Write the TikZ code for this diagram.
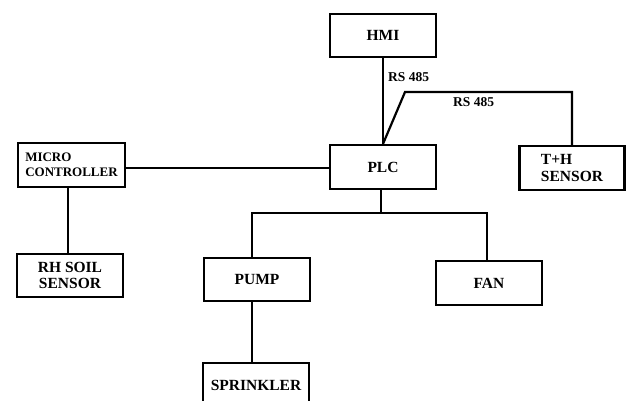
\documentclass[tikz,border=0pt]{standalone}
\usepackage{fontspec}
\setmainfont{Liberation Serif}
\begin{document}
\begin{tikzpicture}[x=1pt,y=-1pt,
  blk/.style={draw,line width=2.2pt,minimum width=106pt,minimum height=44pt,inner sep=0pt,
    font=\fontsize{15.5}{16.5}\selectfont\bfseries,align=center},
  lbl/.style={font=\fontsize{13.5}{15}\selectfont\bfseries,inner sep=0pt,anchor=west},
  wire/.style={line width=2.2pt}]
\useasboundingbox (0,0) rectangle (628,400);
\node[blk,minimum height=43pt] (hmi) at (383,35.5) {HMI};
\node[blk] (plc) at (383,167) {PLC};
\node[blk,minimum width=105pt,align=left] (th) at (572,168) {T+H\\SENSOR};
\node[blk,minimum width=107pt,align=left,font=\fontsize{13}{15}\selectfont\bfseries] (mc) at (71.5,165) {MICRO\\CONTROLLER};
\node[blk,minimum height=43pt] (rh) at (70,275.5) {RH SOIL\\SENSOR};
\node[blk,minimum height=43pt] (pump) at (257,279.5) {PUMP};
\node[blk] (fan) at (489,283) {FAN};
\node[blk,minimum height=44pt,anchor=north] (spr) at (256,362) {SPRINKLER};
\coordinate (bend) at (405,92);
\coordinate (thc) at (572,92);
\coordinate (busL) at (252,213);
\coordinate (busR) at (487,213);
\draw[wire] (hmi.south) -- (plc.north);
\draw[wire] (plc.north) -- (bend) -- (thc) -- (th.north);
\draw[wire] (plc.west |- 0,168) -- (mc.east |- 0,168);
\draw[wire] (mc.south -| 68,0) -- (rh.north -| 68,0);
\draw[wire] (plc.south -| 381,0) -- (381,213);
\draw[wire] (busL |- pump.north) -- (busL) -- (busR) -- (busR |- fan.north);
\draw[wire] (busL |- pump.south) -- (busL |- spr.north);
\node[lbl] (rs1) at (388,77) {RS 485};
\node[lbl] (rs2) at (453,102) {RS 485};
\end{tikzpicture}
\end{document}
